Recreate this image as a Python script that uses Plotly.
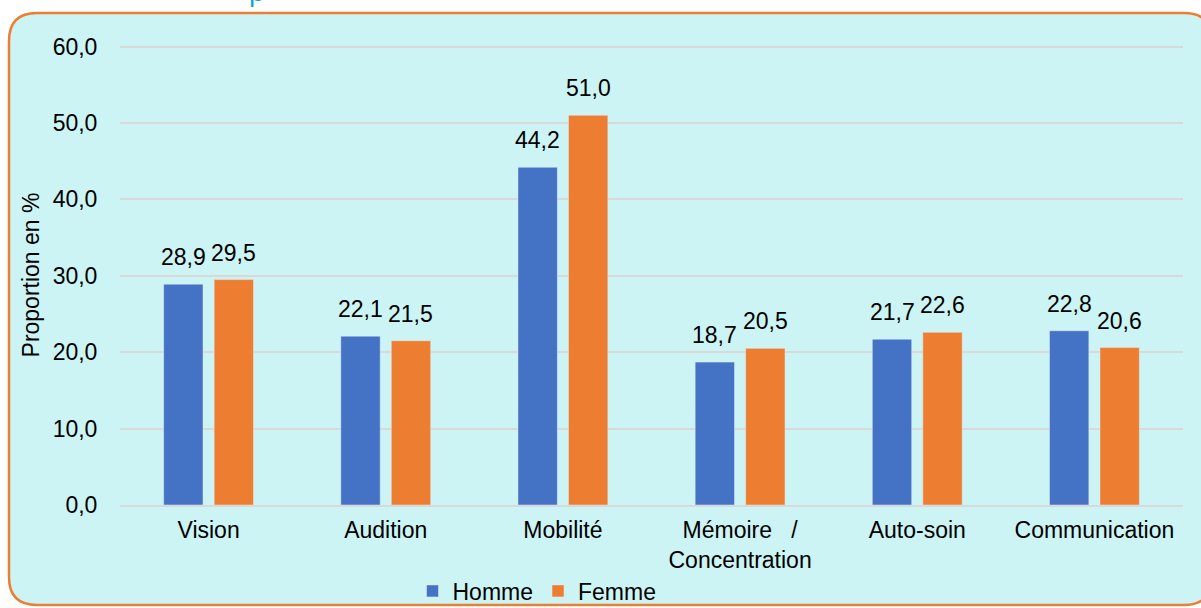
import plotly.graph_objects as go

categories = ["Vision", "Audition", "Mobilité", "Mémoire   /<br>Concentration", "Auto-soin", "Communication"]
homme = [28.9, 22.1, 44.2, 18.7, 21.7, 22.8]
femme = [29.5, 21.5, 51.0, 20.5, 22.6, 20.6]
y_ticks = [0, 10, 20, 30, 40, 50, 60]

W, H = 1201, 608
L, R, T, B = 120, 18, 45, 103
pw, ph = W - L - R, H - T - B
FS = 23
BARGAP = 0.43


def px(x):
    return (x - L) / pw


def py(y):
    return (H - B - y) / ph


def rounded_rect(x0, y0, x1, y1, r):
    rx = r / pw
    ry = r / ph
    X0, X1 = px(x0), px(x1)
    Y0, Y1 = py(y0), py(y1)
    return (
        f"M {X0},{Y0 - ry} L {X0},{Y1 + ry} Q {X0},{Y1} {X0 + rx},{Y1} "
        f"L {X1 - rx},{Y1} Q {X1},{Y1} {X1},{Y1 + ry} "
        f"L {X1},{Y0 - ry} Q {X1},{Y0} {X1 - rx},{Y0} "
        f"L {X0 + rx},{Y0} Q {X0},{Y0} {X0},{Y0 - ry} Z"
    )


fig = go.Figure()
for name, vals, col in [("Homme", homme, "#4472C4"), ("Femme", femme, "#ED7D31")]:
    fig.add_trace(go.Bar(x=categories, y=vals, name=name, marker_color=col))

# value labels, a bit above each bar
shift = pw / len(categories) * (1 - BARGAP) / 4
for vals, sign in [(homme, -1), (femme, 1)]:
    for c, v in zip(categories, vals):
        fig.add_annotation(
            x=c, y=v, text=f"{v:.1f}".replace(".", ","),
            showarrow=False, yanchor="bottom", yshift=12,
            xshift=sign * shift, font=dict(size=FS, color="black"),
        )

# cut-off title above the panel (only a descender shows)
fig.add_annotation(
    xref="paper", yref="paper", x=px(247), y=py(9), yanchor="bottom",
    text="p", showarrow=False, font=dict(size=28, color="#14A8BE"),
)

# cyan panel with orange rounded border
fig.add_shape(type="path", xref="paper", yref="paper",
    path=rounded_rect(9, 13, 1212, 605, 28),
    fillcolor="#CCF4F5",
    line=dict(color="#ED7D31", width=2.5),
    layer="below",
)

fig.update_layout(
    width=W, height=H,
    margin=dict(l=L, r=R, t=T, b=B, autoexpand=False),
    paper_bgcolor="white",
    plot_bgcolor="rgba(0,0,0,0)",
    separators=", ",
    font=dict(family="Liberation Sans, Arial", size=FS, color="black"),
    barmode="group",
    bargap=BARGAP,
    bargroupgap=0.22,
    showlegend=True,
    legend=dict(
        orientation="h", x=px(537), xanchor="center",
        y=py(591), yanchor="middle",
        font=dict(size=FS), bgcolor="rgba(0,0,0,0)",
        itemwidth=30, traceorder="normal",
    ),
)

fig.update_yaxes(
    range=[0, 60.2],
    tickvals=y_ticks,
    tickformat=".1f",
    showgrid=True, gridcolor="#D9D9D9", gridwidth=2,
    zeroline=False,
    ticks="outside", ticklen=17, tickcolor="rgba(0,0,0,0)",
    title=dict(text="Proportion en %", font=dict(size=FS), standoff=6),
)
fig.update_xaxes(
    showline=True, linecolor="#D9D9D9", linewidth=2,
    tickfont=dict(size=FS),
    ticks="outside", ticklen=3, tickcolor="rgba(0,0,0,0)",
)

fig.write_html("out.html", config={"displayModeBar": False},
               post_script="document.body.style.margin='0';")
